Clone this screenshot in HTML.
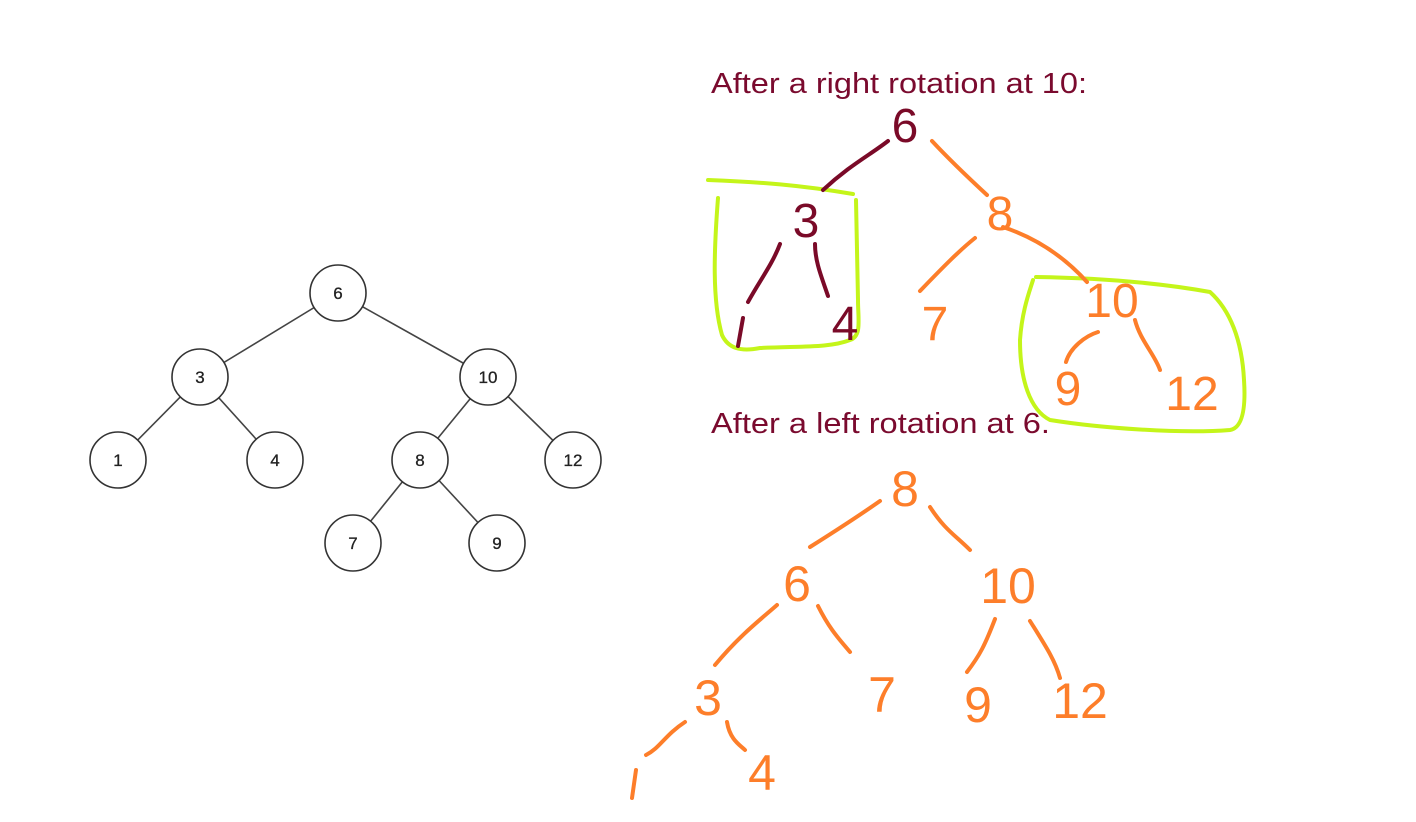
<!DOCTYPE html>
<html><head><meta charset="utf-8"><style>
html,body{margin:0;padding:0;background:#fff;}
svg{display:block;}
</style></head><body>
<svg width="1416" height="822" viewBox="0 0 1416 822" xmlns="http://www.w3.org/2000/svg">
<!-- Left tree -->
<g stroke="#444" stroke-width="1.6" fill="none">
<line x1="338" y1="293" x2="200" y2="377"/>
<line x1="338" y1="293" x2="488" y2="377"/>
<line x1="200" y1="377" x2="118" y2="460"/>
<line x1="200" y1="377" x2="275" y2="460"/>
<line x1="488" y1="377" x2="420" y2="460"/>
<line x1="488" y1="377" x2="573" y2="460"/>
<line x1="420" y1="460" x2="353" y2="543"/>
<line x1="420" y1="460" x2="497" y2="543"/>
</g>
<g stroke="#333" stroke-width="1.6" fill="#fff">
<circle cx="338" cy="293" r="28"/><circle cx="200" cy="377" r="28"/><circle cx="488" cy="377" r="28"/>
<circle cx="118" cy="460" r="28"/><circle cx="275" cy="460" r="28"/><circle cx="420" cy="460" r="28"/>
<circle cx="573" cy="460" r="28"/><circle cx="353" cy="543" r="28"/><circle cx="497" cy="543" r="28"/>
</g>
<g font-family="Liberation Sans, sans-serif" font-size="17" fill="#222" text-anchor="middle" stroke="#222" stroke-width="0.3">
<text x="338" y="299">6</text><text x="200" y="383">3</text><text x="488" y="383">10</text>
<text x="118" y="466">1</text><text x="275" y="466">4</text><text x="420" y="466">8</text>
<text x="573" y="466">12</text><text x="353" y="549">7</text><text x="497" y="549">9</text>
</g>

<!-- Titles -->
<g font-family="Liberation Sans, sans-serif" font-size="29" fill="#7a0a2e">
<text x="711" y="93" textLength="376" lengthAdjust="spacingAndGlyphs">After a right rotation at 10:</text>
<text x="711" y="433" textLength="339" lengthAdjust="spacingAndGlyphs">After a left rotation at 6.</text>
</g>

<!-- Green boxes -->
<g stroke="#c4f51a" stroke-width="4" fill="none" stroke-linecap="round" stroke-linejoin="round">
<path d="M708 180 C760 182 800 185 853 194 M718 198 C714 250 712 300 722 335 C728 348 740 352 760 348 C800 346 830 348 850 340 C862 336 858 320 858 300 L856 200"/>
<path d="M1036 277 C1100 278 1160 283 1210 292 C1230 310 1242 340 1244 380 C1246 410 1242 428 1230 430 C1180 434 1100 428 1050 420 C1030 410 1020 380 1020 340 C1022 310 1030 290 1033 280"/>
</g>

<!-- Top tree edges -->
<g stroke-width="4" fill="none" stroke-linecap="round">
<g stroke="#7a0a28">
<path d="M888 141 C870 155 850 165 823 190"/>
<path d="M780 244 C772 265 760 280 748 302"/>
<path d="M815 244 C815 262 822 278 828 296"/>
<path d="M743 318 L738 346"/>
</g>
<g stroke="#fd7e2a">
<path d="M932 141 C945 155 960 170 987 195"/>
<path d="M975 238 C960 250 945 265 920 291"/>
<path d="M1003 227 C1030 236 1060 252 1087 282"/>
<path d="M1098 332 C1085 336 1070 348 1066 362"/>
<path d="M1135 320 C1140 340 1155 355 1160 370"/>
</g>
</g>
<g font-family="Liberation Sans, sans-serif" font-size="48" text-anchor="middle">
<g fill="#7a0a28">
<text x="905" y="142">6</text>
<text x="806" y="237">3</text>
<text x="845" y="340">4</text>
</g>
<g fill="#fd7e2a">
<text x="1000" y="230">8</text>
<text x="935" y="340">7</text>
<text x="1112" y="317">10</text>
<text x="1068" y="405">9</text>
<text x="1192" y="410">12</text>
</g>
</g>

<!-- Bottom tree -->
<g stroke="#fd7e2a" stroke-width="4" fill="none" stroke-linecap="round">
<path d="M880 501 C860 515 845 525 810 547"/>
<path d="M930 507 C945 530 955 535 970 550"/>
<path d="M777 605 C760 620 740 635 715 665"/>
<path d="M818 606 C830 630 840 640 850 652"/>
<path d="M995 619 C985 645 980 655 967 672"/>
<path d="M1030 621 C1045 645 1055 660 1060 678"/>
<path d="M685 722 C665 735 660 748 646 755"/>
<path d="M727 722 C730 740 740 745 745 750"/>
<path d="M636 770 L632 798"/>
</g>
<g font-family="Liberation Sans, sans-serif" font-size="50" fill="#fd7e2a" text-anchor="middle">
<text x="905" y="506">8</text>
<text x="797" y="601">6</text>
<text x="1008" y="603">10</text>
<text x="708" y="715">3</text>
<text x="882" y="712">7</text>
<text x="978" y="722">9</text>
<text x="1080" y="718">12</text>
<text x="762" y="790">4</text>
</g>
</svg>
</body></html>
